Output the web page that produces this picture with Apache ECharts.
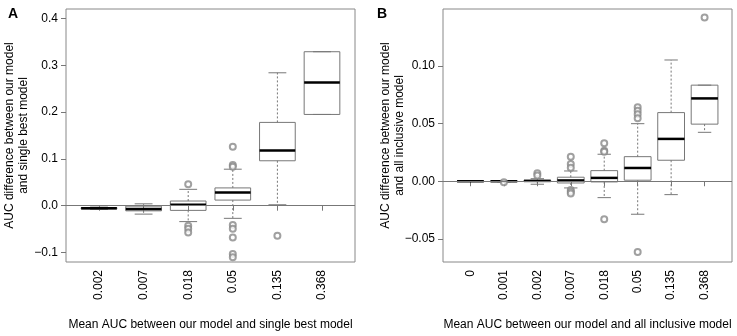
<!DOCTYPE html>
<html>
<head>
<meta charset="utf-8">
<script src="https://cdn.jsdelivr.net/npm/echarts@6/dist/echarts.min.js"></script>
<style>
html, body { margin: 0; padding: 0; background: #fff; }
#chart { width: 737px; height: 336px; }
</style>
</head>
<body>
<div id="chart"></div>
<script>
// panel A: our model vs single best model
var catsA = ['0.002', '0.007', '0.018', '0.05', '0.135', '0.368'];
var minA = [-0.008, -0.018, -0.034, -0.027, 0.002, 0.195];
var q1A  = [-0.007, -0.011, -0.010, 0.012, 0.096, 0.195];
var medA = [-0.0055, -0.007, 0.002, 0.028, 0.118, 0.263];
var q3A  = [-0.004, -0.001, 0.010, 0.038, 0.178, 0.329];
var maxA = [-0.003, 0.004, 0.035, 0.078, 0.284, 0.329];
var outAx = [3, 3, 3, 3, 4, 4, 4, 4, 4, 4, 4, 4, 5];
var outAy = [0.046, -0.043, -0.049, -0.057, 0.126, 0.087, 0.083, -0.041, -0.049, -0.068, -0.103, -0.110, -0.064];
var ticksA = [-0.1, 0, 0.1, 0.2, 0.3, 0.4];
var tickLabelsA = ['\u22120.1', '0.0', '0.1', '0.2', '0.3', '0.4'];

// panel B: our model vs all inclusive model
var catsB = ['0', '0.001', '0.002', '0.007', '0.018', '0.05', '0.135', '0.368'];
var minB = [0, -0.0004, -0.0026, -0.0058, -0.0142, -0.0286, -0.0116, 0.0424];
var q1B  = [0, -0.0002, -0.0002, -0.0015, -0.0006, 0.0009, 0.0182, 0.0495];
var medB = [0, 0, 0.0003, 0.0007, 0.0029, 0.0115, 0.0367, 0.0718];
var q3B  = [0, 0.0002, 0.0008, 0.0035, 0.0092, 0.0213, 0.0595, 0.0833];
var maxB = [0, 0.0004, 0.0022, 0.0089, 0.0234, 0.0499, 0.1051, 0.0833];
var outBx = [2, 3, 3, 4, 4, 4, 4, 4, 4, 5, 5, 5, 5, 6, 6, 6, 6, 6, 8];
var outBy = [-0.0009, 0.0069, 0.0049, 0.0213, 0.015, 0.0118, -0.0075, -0.009, -0.0107,
             0.033, 0.0265, 0.0255, -0.033, 0.0641, 0.0612, 0.058, 0.0546, -0.0613, 0.142];
var ticksB = [-0.05, 0, 0.05, 0.1];
var tickLabelsB = ['\u22120.05', '0.00', '0.05', '0.10'];

var font = 'Liberation Sans, Arial, Helvetica, sans-serif';
var gray = '#777';

function boxData(mins, q1s, meds, q3s, maxs) {
    return mins.map(function (v, i) {
        return [i + 1, v, q1s[i], meds[i], q3s[i], maxs[i]];
    });
}

function pairs(xs, ys) {
    return xs.map(function (x, i) { return [x, ys[i]]; });
}

function renderBox(params, api) {
    var x = api.value(0);
    var pMin = api.coord([x, api.value(1)]);
    var pQ1 = api.coord([x, api.value(2)]);
    var pMed = api.coord([x, api.value(3)]);
    var pQ3 = api.coord([x, api.value(4)]);
    var pMax = api.coord([x, api.value(5)]);
    var w = api.size([0.8, 0])[0];
    var cx = pMed[0];
    var solid = { stroke: gray, lineWidth: 1, fill: 'none' };
    var dashed = { stroke: gray, lineWidth: 1, lineDash: [2, 2], fill: 'none' };
    return {
        type: 'group',
        children: [
            { type: 'line', shape: { x1: cx, y1: pQ3[1], x2: cx, y2: pMax[1] }, style: dashed },
            { type: 'line', shape: { x1: cx, y1: pQ1[1], x2: cx, y2: pMin[1] }, style: dashed },
            { type: 'line', shape: { x1: cx - w / 4, y1: pMax[1], x2: cx + w / 4, y2: pMax[1] }, style: solid },
            { type: 'line', shape: { x1: cx - w / 4, y1: pMin[1], x2: cx + w / 4, y2: pMin[1] }, style: solid },
            { type: 'rect', shape: { x: cx - w / 2, y: pQ3[1], width: w, height: pQ1[1] - pQ3[1] }, style: solid },
            { type: 'line', shape: { x1: cx - w / 2, y1: pMed[1], x2: cx + w / 2, y2: pMed[1] },
              style: { stroke: '#000', lineWidth: 2.5 } }
        ]
    };
}

function xAxisFor(idx, cats, min, max, name) {
    var pos = cats.map(function (c, i) { return i + 1; });
    return {
        gridIndex: idx,
        type: 'value',
        min: min,
        max: max,
        splitLine: { show: false },
        axisLine: { show: false },
        axisTick: { customValues: pos, length: 5, lineStyle: { color: gray } },
        axisLabel: {
            customValues: pos,
            rotate: 90,
            margin: 8,
            fontSize: 12,
            fontFamily: font,
            color: '#000',
            formatter: function (v) { return cats[Math.round(v) - 1]; }
        },
        name: name,
        nameLocation: 'middle',
        nameGap: 57,
        nameMoveOverlap: false,
        nameTextStyle: { fontSize: 12, fontFamily: font, color: '#000' }
    };
}

function yAxisFor(idx, min, max, ticks, labels, name, gap) {
    return {
        gridIndex: idx,
        type: 'value',
        min: min,
        max: max,
        splitLine: { show: false },
        axisLine: { show: false },
        axisTick: { customValues: ticks, length: 5, lineStyle: { color: gray } },
        axisLabel: {
            customValues: ticks,
            margin: 8,
            fontSize: 12,
            fontFamily: font,
            color: '#000',
            formatter: function (v) {
                var k = ticks.findIndex(function (t) { return Math.abs(t - v) < 1e-9; });
                return k >= 0 ? labels[k] : '';
            }
        },
        name: name,
        nameLocation: 'middle',
        nameRotate: 90,
        nameGap: gap,
        nameMoveOverlap: false,
        nameTextStyle: { fontSize: 12, lineHeight: 14, fontFamily: font, color: '#000' }
    };
}

var zeroLine = {
    silent: true,
    symbol: 'none',
    label: { show: false },
    lineStyle: { color: gray, type: 'solid', width: 1 },
    data: [{ yAxis: 0 }]
};

var mychart = echarts.init(document.getElementById('chart'));

var option = {
    animation: false,
    title: [
        { text: 'A', left: 3, top: 2, textStyle: { fontSize: 14, fontWeight: 'bold', fontFamily: font, color: '#000' } },
        { text: 'B', left: 372, top: 2, textStyle: { fontSize: 14, fontWeight: 'bold', fontFamily: font, color: '#000' } }
    ],
    grid: [
        { left: 66, top: 9, width: 289, height: 253, show: true, borderColor: '#888', borderWidth: 1, backgroundColor: 'transparent' },
        { left: 443, top: 9, width: 289, height: 253, show: true, borderColor: '#888', borderWidth: 1, backgroundColor: 'transparent' }
    ],
    xAxis: [
        xAxisFor(0, catsA, 0.26, 6.74, 'Mean AUC between our model and single best model'),
        xAxisFor(1, catsB, 0.18, 8.82, 'Mean AUC between our model and all inclusive model')
    ],
    yAxis: [
        yAxisFor(0, -0.1203, 0.4203, ticksA, tickLabelsA, 'AUC difference between our model\nand single best model', 35),
        yAxisFor(1, -0.0700, 0.1493, ticksB, tickLabelsB, 'AUC difference between our model\nand all inclusive model', 36)
    ],
    series: [
        {
            type: 'scatter', xAxisIndex: 0, yAxisIndex: 0,
            data: pairs(outAx, outAy),
            symbol: 'emptyCircle', symbolSize: 6,
            itemStyle: { color: '#888', borderColor: '#888', borderWidth: 0.9 },
            markLine: zeroLine
        },
        {
            type: 'custom', xAxisIndex: 0, yAxisIndex: 0,
            data: boxData(minA, q1A, medA, q3A, maxA),
            encode: { x: 0, y: [1, 2, 3, 4, 5] },
            renderItem: renderBox
        },
        {
            type: 'scatter', xAxisIndex: 1, yAxisIndex: 1,
            data: pairs(outBx, outBy),
            symbol: 'emptyCircle', symbolSize: 6,
            itemStyle: { color: '#888', borderColor: '#888', borderWidth: 0.9 },
            markLine: zeroLine
        },
        {
            type: 'custom', xAxisIndex: 1, yAxisIndex: 1,
            data: boxData(minB, q1B, medB, q3B, maxB),
            encode: { x: 0, y: [1, 2, 3, 4, 5] },
            renderItem: renderBox
        }
    ]
};
mychart.setOption(option);
</script>
</body>
</html>
